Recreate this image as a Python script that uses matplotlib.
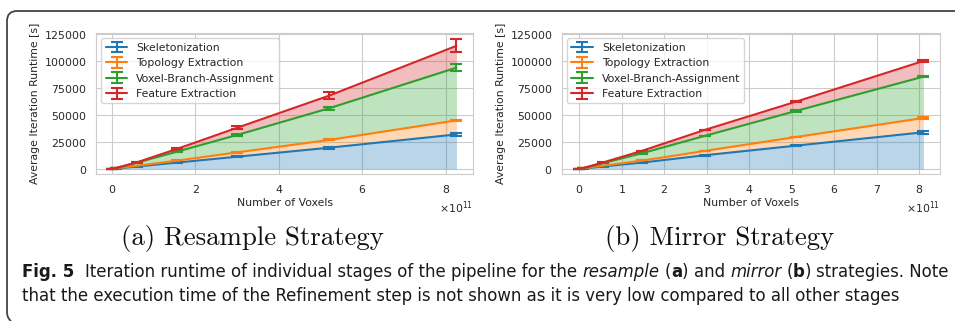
import matplotlib
matplotlib.use("Agg")
import matplotlib.pyplot as plt
import numpy as np
import seaborn as sns
from matplotlib.path import Path
from matplotlib.patches import PathPatch

sns.set_style("whitegrid")
plt.rcParams["font.family"] = ["DejaVu Sans"]
plt.rcParams["axes.formatter.use_mathtext"] = True

STAGES = ["Skeletonization", "Topology Extraction",
          "Voxel-Branch-Assignment", "Feature Extraction"]
COLORS = ["#1f77b4", "#ff7f0e", "#2ca02c", "#d62728"]

# resample strategy: voxel counts and per-stage runtimes [s]
resample_voxels = np.array([0, 0.1, 0.6, 1.55, 3.0, 5.2, 8.25]) * 1e11
resample_skel = [0, 400, 2300, 5900, 11400, 19700, 32000]
resample_topo = [0, 300, 700, 1800, 4000, 7200, 13000]
resample_vba = [0, 100, 2900, 8300, 16100, 29300, 48800]
resample_feat = [0, 200, 300, 2500, 6700, 11700, 20200]
resample_err_skel = [0, 100, 200, 300, 500, 800, 1500]
resample_err_topo = [0, 100, 200, 300, 400, 500, 600]
resample_err_vba = [0, 200, 400, 700, 1000, 1500, 3000]
resample_err_feat = [0, 300, 600, 1000, 1500, 3000, 6000]

# mirror strategy
mirror_voxels = np.array([0, 0.1, 0.55, 1.47, 2.95, 5.1, 8.1]) * 1e11
mirror_skel = [0, 400, 2300, 5900, 12700, 21600, 34000]
mirror_topo = [0, 300, 700, 1800, 4000, 8000, 13200]
mirror_vba = [0, 100, 2300, 6800, 13900, 24100, 38300]
mirror_feat = [0, 100, 600, 2200, 5500, 8600, 14500]
mirror_err_skel = [0, 100, 200, 300, 400, 600, 1500]
mirror_err_topo = [0, 100, 200, 300, 300, 400, 500]
mirror_err_vba = [0, 100, 200, 300, 400, 500, 600]
mirror_err_feat = [0, 100, 200, 300, 400, 500, 600]

fig = plt.figure(figsize=(9.55, 3.21), dpi=100)
W, H = 955.0, 321.0

FS = 7.8
TXT = "#262626"


def runtime_panel(ax, x, stages, errs, xlim, xticks):
    cum = np.cumsum(np.array(stages, dtype=float), axis=0)
    lower = np.zeros_like(x)
    for i in range(len(stages)):
        ax.fill_between(x, lower, cum[i], color=COLORS[i], alpha=0.3, lw=0)
        lower = cum[i]
    for i in range(len(stages)):
        ax.errorbar(x, cum[i], yerr=errs[i], color=COLORS[i], lw=1.5,
                    capsize=4, capthick=1.5, label=STAGES[i])
    ax.set_xlim(*xlim)
    ax.set_ylim(-4630, 125900)
    ax.set_xticks(xticks)
    ax.set_yticks(np.arange(0, 125001, 25000))
    ax.tick_params(labelsize=FS, labelcolor=TXT, pad=3)
    ax.xaxis.get_offset_text().set_fontsize(FS)
    ax.xaxis.get_offset_text().set_color(TXT)
    ax.set_xlabel("Number of Voxels", fontsize=FS, color=TXT, labelpad=2)
    ax.set_ylabel("Average Iteration Runtime [s]", fontsize=FS, color=TXT,
                  labelpad=3)
    ax.legend(loc="upper left", fontsize=FS, frameon=True,
              borderaxespad=0.5, labelspacing=0.5)


ax1 = fig.add_axes([96 / W, 1 - 174 / H, 377 / W, 141 / H])
runtime_panel(ax1, resample_voxels,
              [resample_skel, resample_topo, resample_vba, resample_feat],
              [resample_err_skel, resample_err_topo, resample_err_vba,
               resample_err_feat],
              (-0.383e11, 8.647e11), np.arange(0, 8.1e11, 2e11))

ax2 = fig.add_axes([561.7 / W, 1 - 174 / H, 378.3 / W, 141 / H])
runtime_panel(ax2, mirror_voxels,
              [mirror_skel, mirror_topo, mirror_vba, mirror_feat],
              [mirror_err_skel, mirror_err_topo, mirror_err_vba,
               mirror_err_feat],
              (-0.41e11, 8.49e11), np.arange(0, 8.1e11, 1e11))

# sub-figure captions
fig.text(252 / W, 1 - 239 / H, "(a) Resample Strategy", family="cmr10",
         fontsize=19.3, ha="center", va="center", color="#111111")
fig.text(720 / W, 1 - 239 / H, "(b) Mirror Strategy", family="cmr10",
         fontsize=19.3, ha="center", va="center", color="#111111")

# figure caption, written as runs of differently styled text
CAP_FONT = ["DejaVu Sans"]
CAP_STRETCH = "condensed"
renderer = fig.canvas.get_renderer()

line1 = [("Fig. 5", "bold", "normal", 2),
         ("Iteration runtime of individual stages of the pipeline for the",
          "normal", "normal", 1),
         ("resample", "normal", "italic", 1),
         ("(", "normal", "normal", 0),
         ("a", "bold", "normal", 0),
         (")", "normal", "normal", 1),
         ("and", "normal", "normal", 1),
         ("mirror", "normal", "italic", 1),
         ("(", "normal", "normal", 0),
         ("b", "bold", "normal", 0),
         (")", "normal", "normal", 1),
         ("strategies. Note", "normal", "normal", 0)]
line2 = ("that the execution time of the Refinement step is not shown as it "
         "is very low compared to all other stages")


def draw_runs(runs, x0, y, size):
    t = fig.text(0, 0, "a a", family=CAP_FONT, stretch=CAP_STRETCH,
                 fontsize=size)
    space = t.get_window_extent(renderer).width
    t.set_text("aa")
    space -= t.get_window_extent(renderer).width
    t.remove()
    xpos = x0
    made = []
    for s, weight, style, gap in runs:
        t = fig.text(xpos / W, 1 - y / H, s, family=CAP_FONT,
                     stretch=CAP_STRETCH, fontsize=size, weight=weight,
                     style=style, color="#1a1a1a", va="baseline", ha="left")
        made.append(t)
        xpos += t.get_window_extent(renderer).width + gap * space
    return made, xpos - x0


# size the caption so that the first line spans the text block
trial, width = draw_runs(line1, 22, 277, 10)
for t in trial:
    t.remove()
cap_fs = 10 * 926 / width
draw_runs(line1, 22, 277, cap_fs)
fig.text(22 / W, 1 - 301 / H, line2, family=CAP_FONT, stretch=CAP_STRETCH,
         fontsize=cap_fs, color="#1a1a1a", va="baseline", ha="left")

# rounded page frame around the figure block
frame = Path([(955, 11), (17, 11), (7, 11), (7, 21), (7, 312), (7, 318),
              (11, 321)],
             [Path.MOVETO, Path.LINETO, Path.CURVE3, Path.CURVE3,
              Path.LINETO, Path.CURVE3, Path.CURVE3])
frame = Path(np.column_stack([frame.vertices[:, 0] / W,
                              1 - frame.vertices[:, 1] / H]), frame.codes)
fig.patches.append(PathPatch(frame, transform=fig.transFigure,
                             fill=False, edgecolor="#444444", lw=1.3))

fig.savefig("out.png", dpi=100)
